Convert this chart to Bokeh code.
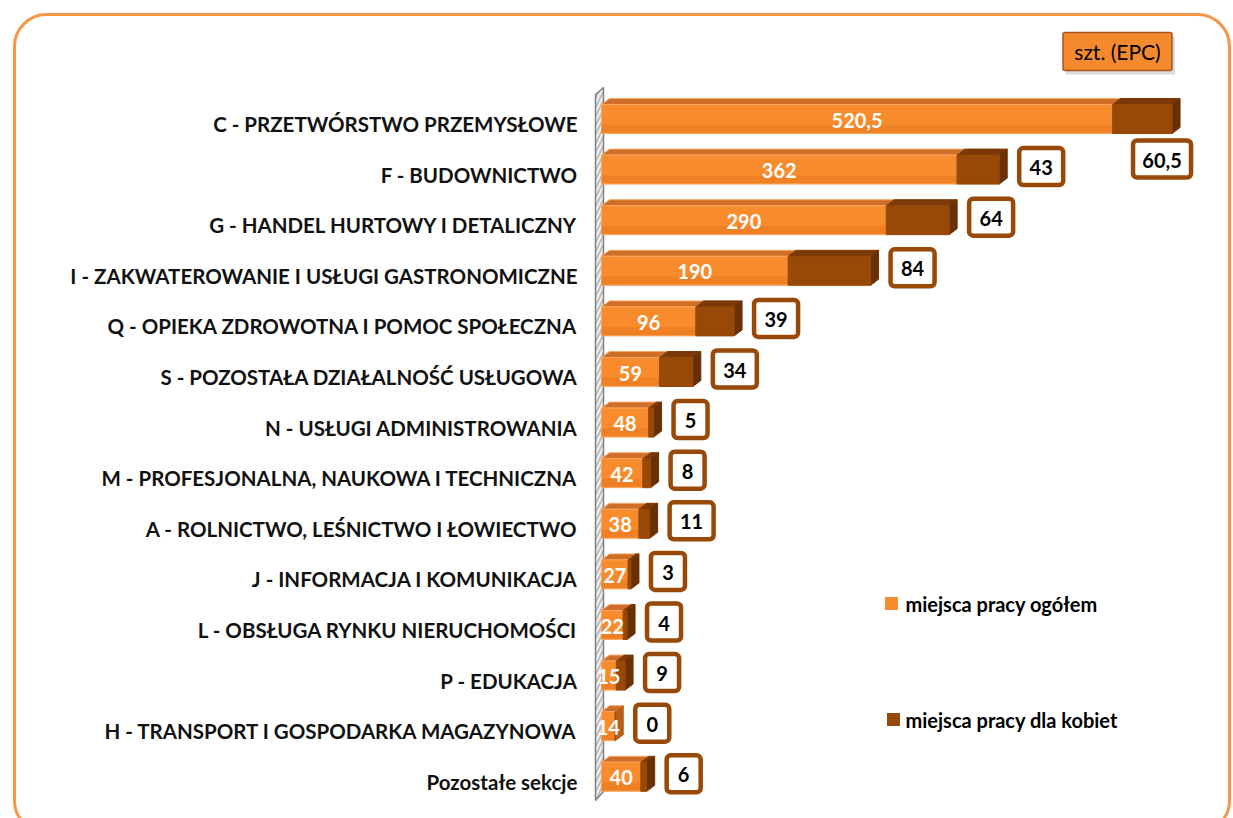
from bokeh.plotting import figure
from bokeh.models import Range1d, BoxAnnotation
from bokeh.core.properties import value
from bokeh.embed import file_html
from bokeh.resources import INLINE

categories = [
    "C - PRZETWÓRSTWO PRZEMYSŁOWE",
    "F - BUDOWNICTWO",
    "G - HANDEL HURTOWY I DETALICZNY",
    "I - ZAKWATEROWANIE I USŁUGI GASTRONOMICZNE",
    "Q - OPIEKA ZDROWOTNA I POMOC SPOŁECZNA",
    "S - POZOSTAŁA DZIAŁALNOŚĆ USŁUGOWA",
    "N - USŁUGI ADMINISTROWANIA",
    "M - PROFESJONALNA, NAUKOWA I TECHNICZNA",
    "A - ROLNICTWO, LEŚNICTWO I ŁOWIECTWO",
    "J - INFORMACJA I KOMUNIKACJA",
    "L - OBSŁUGA RYNKU NIERUCHOMOŚCI",
    "P - EDUKACJA",
    "H - TRANSPORT I GOSPODARKA MAGAZYNOWA",
    "Pozostałe sekcje",
]
total_jobs = [520.5, 362, 290, 190, 96, 59, 48, 42, 38, 27, 22, 15, 14, 40]
women_jobs = [60.5, 43, 64, 84, 39, 34, 5, 8, 11, 3, 4, 9, 0, 6]
series_names = ["miejsca pracy ogółem", "miejsca pracy dla kobiet"]
unit_label = "szt. (EPC)"

FONT = "Lato"
ORANGE = "#F88C2C"
ORANGE_DARK = "#E8741C"
ORANGE_TOP = "#D06E28"
ORANGE_SIDE = "#B85E1C"
BROWN = "#984807"
BROWN_TOP = "#7A3906"
BROWN_SIDE = "#6A3004"
BORDER = "#F79646"

W, H = 1233, 818
SX = 0.982      # px per unit
SY = 50.6       # px per row
ZERO_X = 601    # canvas px of value 0
ROW0_Y = 118.5  # canvas px of first row centre


def X(px):
    return (px - ZERO_X) / SX


def Y(py):
    return (py - ROW0_Y) / SY


def fmt(v):
    return f"{v:g}".replace(".", ",")


n = len(categories)
rows = list(range(n))

p = figure(width=W, height=H, output_backend="svg", toolbar_location=None,
           x_range=Range1d(X(0), X(W)),
           y_range=Range1d(Y(H), Y(0)),
           x_axis_location=None, y_axis_location=None, min_border=0)
p.grid.visible = False
p.outline_line_color = None
p.background_fill_color = "white"
p.border_fill_color = "white"

# outer rounded frame
p.add_layout(BoxAnnotation(left=X(14), right=X(1229), top=Y(14), bottom=Y(832),
                           line_color=BORDER, line_alpha=1.0, line_width=3,
                           fill_alpha=0, border_radius=32))

# wall (3D axis)
p.patch([X(595), X(603), X(603), X(595)], [Y(94), Y(87), Y(791), Y(800)],
        fill_color="#BDBDBD", line_color="#808080", line_width=1.5,
        hatch_pattern="right_diagonal_line", hatch_color="#F2F2F2",
        hatch_scale=9, hatch_weight=2)

bh = 29 / SY
DX = 8 / SX
DY = 6 / SY

tops = [r - bh / 2 for r in rows]
bots = [r + bh / 2 for r in rows]
ends = [t + w for t, w in zip(total_jobs, women_jobs)]

# top faces
p.patches([[0, DX, t + DX, t] for t in total_jobs],
          [[yt, yt - DY, yt - DY, yt] for yt in tops],
          fill_color=ORANGE_TOP, line_color="#F6A868", line_width=1)
p.patches([[t, t + DX, e + DX, e] for t, e in zip(total_jobs, ends) if e > t],
          [[yt, yt - DY, yt - DY, yt] for t, e, yt in zip(total_jobs, ends, tops) if e > t],
          fill_color=BROWN_TOP, line_color=BROWN_TOP, line_width=1)
# side faces
p.patches([[e, e + DX, e + DX, e] for e in ends],
          [[yt, yt - DY, yb - DY, yb] for yt, yb in zip(tops, bots)],
          fill_color=[BROWN_SIDE if w > 0 else ORANGE_SIDE for w in women_jobs],
          line_color=[BROWN_SIDE if w > 0 else ORANGE_SIDE for w in women_jobs],
          line_width=1)
# front faces
p.quad(left=0, right=total_jobs, top=tops, bottom=bots,
       fill_color=ORANGE, line_color="#F7A564", line_width=1)
p.quad(left=0, right=total_jobs, top=[r + bh * 0.2 for r in rows], bottom=[b - 1 / SY for b in bots],
       fill_color=ORANGE_DARK, line_color=None, fill_alpha=0.5)
p.quad(left=total_jobs, right=ends, top=tops, bottom=bots,
       fill_color=BROWN, line_color=BROWN, line_width=1)

# category labels
p.text(x=[X(577)] * n, y=rows, text=categories, y_offset=5,
       text_align="right", text_baseline="middle",
       text_font=value(FONT), text_font_size="20.5px", text_font_style="bold",
       text_color="#111111")

# values inside bars
p.text(x=[t / 2 for t in total_jobs], y=rows, text=[fmt(t) for t in total_jobs],
       y_offset=1, text_align="center", text_baseline="middle",
       text_font=value(FONT), text_font_size="20px", text_font_style="bold",
       text_color="white")

# boxed women values
bx, by, bw, btxt = [], [], [], []
x_limit = X(1215)
for i, (e, w) in enumerate(zip(ends, women_jobs)):
    s = fmt(w)
    wpx = 24 + 10 * sum(c.isdigit() for c in s) + 4 * s.count(",")
    cx = e + (20 + wpx / 2) / SX
    cy = i - 3 / SY
    if cx + wpx / 2 / SX > x_limit:
        cx = e - 10 / SX
        cy = i + 40 / SY
    bx.append(cx)
    by.append(cy)
    bw.append(wpx)
    btxt.append(s)

p.rect(x=bx, y=by, width=bw, height=37, width_units="screen", height_units="screen",
       fill_color="white", line_color=BROWN, line_width=4.5, border_radius=4)
p.text(x=bx, y=by, text=btxt, y_offset=1, text_align="center", text_baseline="middle",
       text_font=value(FONT), text_font_size="20px", text_font_style="bold",
       text_color="black")

# legend (manual, as in the original)
p.scatter(x=[X(891), X(893)], y=[Y(603), Y(719)], marker="square", size=13,
          fill_color=[ORANGE, BROWN], line_color=None)
p.text(x=[X(905), X(905)], y=[Y(603), Y(719)], text=series_names,
       text_align="left", text_baseline="middle",
       text_font=value(FONT), text_font_size="20px", text_font_style="bold",
       text_color="black")

# unit box
p.rect(x=[X(1120)], y=[Y(55)], width=109, height=38, width_units="screen",
       height_units="screen", fill_color="#999999", fill_alpha=0.35, line_color=None)
p.rect(x=[X(1117)], y=[Y(51)], width=109, height=38, width_units="screen",
       height_units="screen", fill_color="#F5892D", line_color="#A8561C", line_width=1.5,
       border_radius=2)
p.text(x=[X(1117)], y=[Y(51)], text=[unit_label], text_align="center",
       text_baseline="middle", text_font=value(FONT), text_font_size="21px",
       text_color="black")

open("out.html", "w").write(file_html(p, INLINE))
